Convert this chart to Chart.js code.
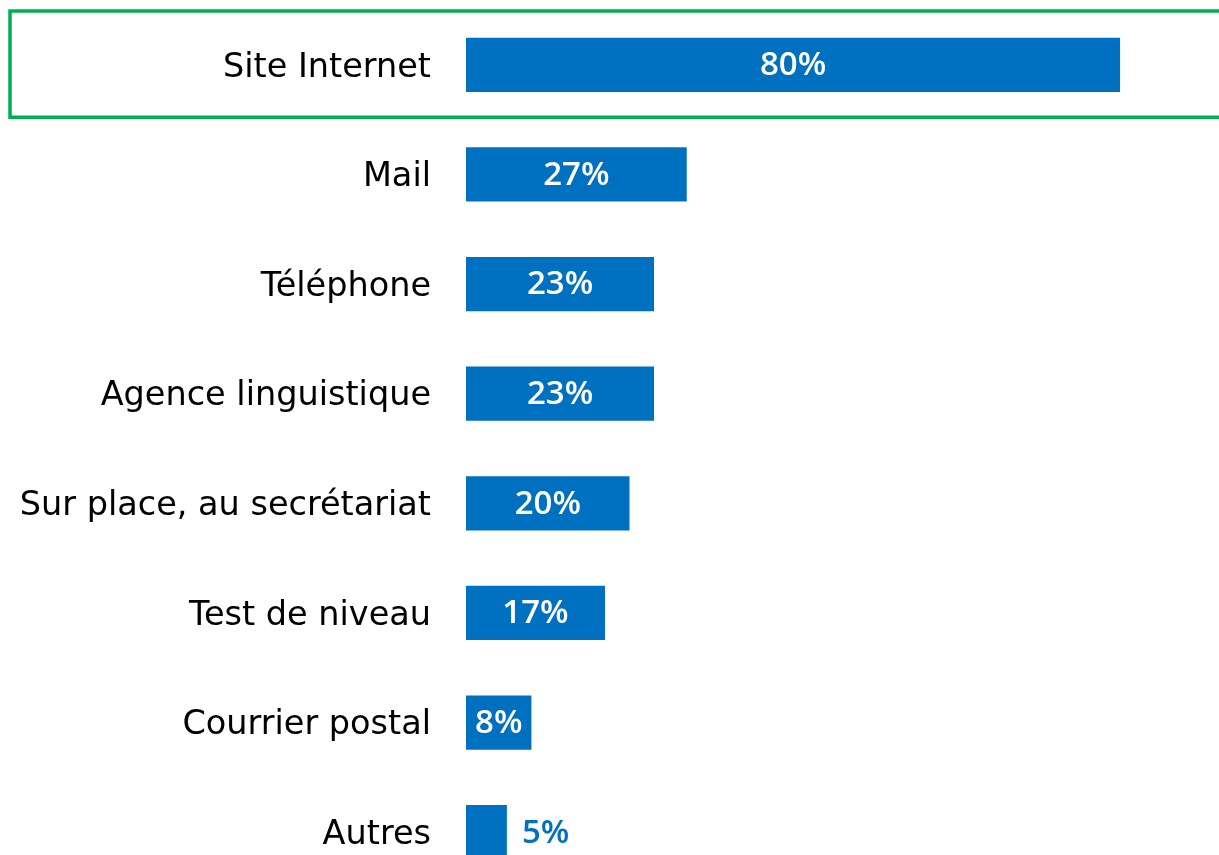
<!DOCTYPE html>
<html><head><meta charset="utf-8">
<script src="https://cdn.jsdelivr.net/npm/chart.js@4/dist/chart.umd.min.js"></script>
<style>
html,body{margin:0;padding:0;background:#fff;overflow:hidden;width:1219px;height:855px;}
#wrap{position:absolute;left:0;top:0;width:1219px;height:897px;}
canvas{display:block;width:1219px;height:897px;}
</style></head>
<body>
<div id="wrap"><canvas id="c" width="1219" height="897"></canvas></div>
<script>
const categories = ["Site Internet","Mail","Téléphone","Agence linguistique","Sur place, au secrétariat","Test de niveau","Courrier postal","Autres"];
const values = [80,27,23,23,20,17,8,5];
const valueLabels = ["80%","27%","23%","23%","20%","17%","8%","5%"];
const highlighted = ["Site Internet"];

const BLUE = "#0070C0";
const GREEN = "#00B050";

const labelPlugin = {
  id: "valueLabels",
  afterDatasetsDraw(chart) {
    const ctx = chart.ctx;
    const meta = chart.getDatasetMeta(0);
    ctx.save();
    ctx.font = "600 33px 'Open Sans'";
    ctx.textBaseline = "middle";
    meta.data.forEach((bar, i) => {
      const txt = valueLabels[i];
      const w = ctx.measureText(txt).width;
      const barW = bar.x - bar.base;
      if (w + 8 < barW) {
        ctx.fillStyle = "#fff";
        ctx.textAlign = "center";
        ctx.fillText(txt, (bar.x + bar.base) / 2, bar.y + 1);
      } else {
        ctx.fillStyle = BLUE;
        ctx.textAlign = "left";
        ctx.fillText(txt, bar.x + 15, bar.y + 1);
      }
    });
    ctx.restore();
  }
};

const boxPlugin = {
  id: "highlightBox",
  afterDraw(chart) {
    const ctx = chart.ctx;
    const y = chart.scales.y;
    ctx.save();
    ctx.strokeStyle = GREEN;
    ctx.lineWidth = 3.5;
    highlighted.forEach(name => {
      const idx = categories.indexOf(name);
      const cy = y.getPixelForValue(idx);
      const half = (y.getPixelForValue(1) - y.getPixelForValue(0)) / 2;
      ctx.beginPath();
      ctx.rect(10, cy - half + 1, chart.width + 20, 2 * half - 3.5);
      ctx.stroke();
    });
    ctx.restore();
  }
};

new Chart(document.getElementById("c"), {
  type: "bar",
  data: {
    labels: categories,
    datasets: [{
      data: values,
      backgroundColor: BLUE,
      borderWidth: 0,
      barPercentage: 0.495,
      categoryPercentage: 1
    }]
  },
  options: {
    indexAxis: "y",
    responsive: false,
    animation: false,
    layout: { padding: { top: 10, right: 0, bottom: 10, left: 0 } },
    plugins: { legend: { display: false }, tooltip: { enabled: false } },
    scales: {
      x: {
        min: 0, max: 92.1,
        display: false,
        grid: { display: false }
      },
      y: {
        grid: { display: false, drawTicks: false },
        border: { display: false },
        ticks: {
          color: "#000",
          font: { family: "'DejaVu Sans'", size: 33.5 },
          padding: 35,
          labelOffset: 3
        },
        afterFit(scale) {
          scale.width = 466;
          scale.paddingTop = 0;
          scale.paddingBottom = 0;
        }
      }
    }
  },
  plugins: [labelPlugin, boxPlugin]
});
</script>
</body></html>
